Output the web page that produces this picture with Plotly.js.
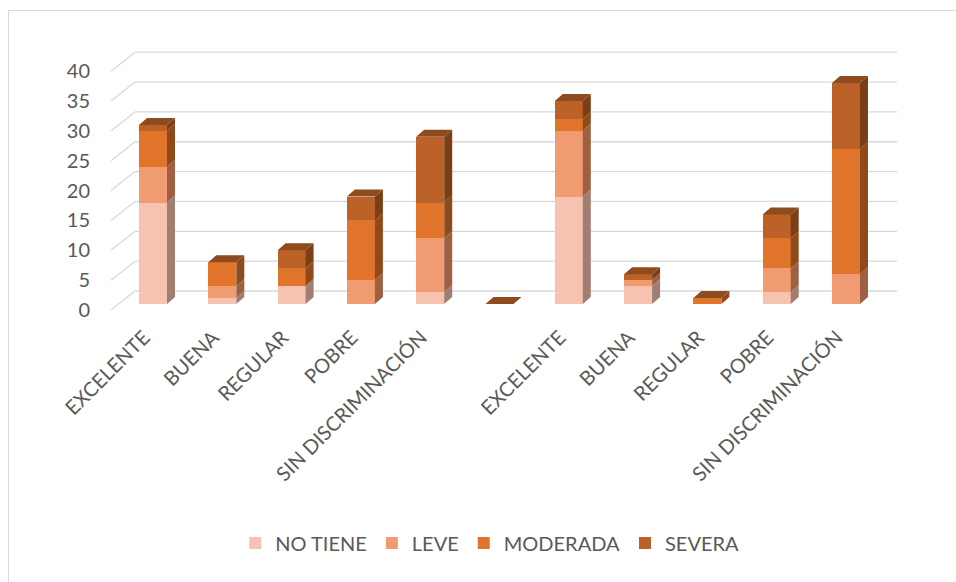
<!DOCTYPE html>
<html><head><meta charset="utf-8">
<script src="https://cdn.plot.ly/plotly-3.0.1.min.js"></script>
<style>
html,body{margin:0;padding:0;background:#fff}
#wrap{position:relative;width:956px;height:582px;overflow:hidden}
#chart{width:956px;height:582px}
#frame{position:absolute;left:8px;top:10px;right:-5px;bottom:-5px;border-left:1.5px solid #d9d9d9;border-top:1.5px solid #d9d9d9;pointer-events:none}
</style>
</head><body>
<div id="wrap"><div id="chart"></div><div id="frame"></div></div>
<script>
// ---- data ----
const categories = ['EXCELENTE','BUENA','REGULAR','POBRE','SIN DISCRIMINACIÓN','','EXCELENTE','BUENA','REGULAR','POBRE','SIN DISCRIMINACIÓN'];
const noTiene  = [17, 1, 3, 0, 2, 0, 18, 3, 0, 2, 0];
const leve     = [ 6, 2, 0, 4, 9, 0, 11, 1, 0, 4, 5];
const moderada = [ 6, 4, 3,10, 6, 0,  2, 0, 1, 5,21];
const severa   = [ 1, 0, 3, 4,11, 0,  3, 1, 0, 4,11];
const seriesNames = ['NO TIENE','LEVE','MODERADA','SEVERA'];
const yTicks = [0,5,10,15,20,25,30,35,40];

// ---- styles / geometry ----
const frontColors = ['#F5C3AF','#F09B71','#E0742B','#BC6127'];
const sideColors  = ['#A07E72','#9F6041','#8F4A1C','#7B3F16'];
const topColor = '#8E4B1D';
const gridColor = '#d9d9d9';
const txtColor = '#595959';
const FONT = 'Lato, "Open Sans", sans-serif';
const G = {left:108, right:900, top:50, bottom:312, zero:304, scale:5.97, c0:153, step:69.3,
           barPx:28, depthX:8, depthY:7, wallFrontX:111, wallBackX:135, wallEndX:897,
           wallFrontDy:6, wallBackDy:13};

const xr = [(G.left-G.c0)/G.step, (G.right-G.c0)/G.step];
const yr = [-(G.bottom-G.zero)/G.scale, (G.zero-G.top)/G.scale];
const bw = G.barPx/G.step;
const dx = G.depthX/G.step, dy = G.depthY/G.scale;
const fOff = -G.wallFrontDy/G.scale, bOff = G.wallBackDy/G.scale;
const wfx = (G.wallFrontX-G.c0)/G.step, wbx = (G.wallBackX-G.c0)/G.step, wex = (G.wallEndX-G.c0)/G.step;

const xIdx = categories.map((_, i) => i);
const series = [noTiene, leve, moderada, severa];

const traces = [];
series.forEach((vals, s) => {
  traces.push({type:'bar', name:seriesNames[s], x:xIdx, y:vals, width:bw,
    marker:{color:frontColors[s], line:{width:0}}, hoverinfo:'y+name'});
});
// side faces
const cum = categories.map(() => 0);
series.forEach((vals, s) => {
  const X = [], Y = [];
  vals.forEach((v, i) => {
    const b = cum[i], t = cum[i] + v;
    if (v > 0) {
      const xR = i + bw/2;
      X.push(xR, xR+dx, xR+dx, xR, xR, null);
      Y.push(b, b+dy, t+dy, t, b, null);
    }
    cum[i] = t;
  });
  traces.push({type:'scatter', mode:'lines', x:X, y:Y, fill:'toself', fillcolor:sideColors[s],
    line:{width:0}, showlegend:false, hoverinfo:'skip'});
});
// top faces
{
  const X = [], Y = [];
  cum.forEach((t, i) => {
    const xL = i - bw/2, xR = i + bw/2;
    X.push(xL, xL+dx, xR+dx, xR, xL, null);
    Y.push(t, t+dy, t+dy, t, t, null);
  });
  traces.push({type:'scatter', mode:'lines', x:X, y:Y, fill:'toself', fillcolor:topColor,
    line:{width:0}, showlegend:false, hoverinfo:'skip'});
}
// dummy trace for label axis
traces.push({type:'scatter', x:[null], y:[null], yaxis:'y2', showlegend:false, hoverinfo:'skip'});

// back wall gridlines
const shapes = [];
yTicks.forEach(v => {
  shapes.push({type:'line', xref:'x', yref:'y', layer:'below', x0:wfx, y0:v+fOff, x1:wbx, y1:v+bOff,
    line:{color:gridColor, width:1.3}});
  shapes.push({type:'line', xref:'x', yref:'y', layer:'below', x0:wbx, y0:v+bOff, x1:wex, y1:v+bOff,
    line:{color:gridColor, width:1.3}});
});

const layout = {
  width:956, height:582,
  margin:{l:G.left, r:956-G.right, t:G.top, b:582-G.bottom, pad:0},
  paper_bgcolor:'#fff', plot_bgcolor:'rgba(0,0,0,0)',
  barmode:'stack',
  font:{family:FONT, size:20, color:txtColor},
  showlegend:true,
  legend:{orientation:'h', x:0.482, xanchor:'center', y:(G.bottom-543)/(G.bottom-G.top), yanchor:'middle',
    font:{family:FONT, size:20, color:txtColor}, traceorder:'normal'},
  xaxis:{range:xr, tickvals:xIdx, ticktext:categories, tickangle:-45, ticks:'', showgrid:false,
    zeroline:false, showline:false, ticklabelshift:-9, ticklabelstandoff:9,
    tickfont:{family:FONT, size:20, color:txtColor}, fixedrange:true},
  yaxis:{range:yr, showticklabels:false, showgrid:false, zeroline:false, showline:false, ticks:'', fixedrange:true},
  yaxis2:{overlaying:'y', side:'left', range:[yr[0]-fOff, yr[1]-fOff], tickvals:yTicks, showgrid:false,
    zeroline:false, showline:false, ticks:'', ticklabelstandoff:17, tickfont:{family:FONT, size:20, color:txtColor}, fixedrange:true},
  shapes:shapes
};
Plotly.newPlot('chart', traces, layout, {displayModeBar:false, staticPlot:true});
</script>
</body></html>
